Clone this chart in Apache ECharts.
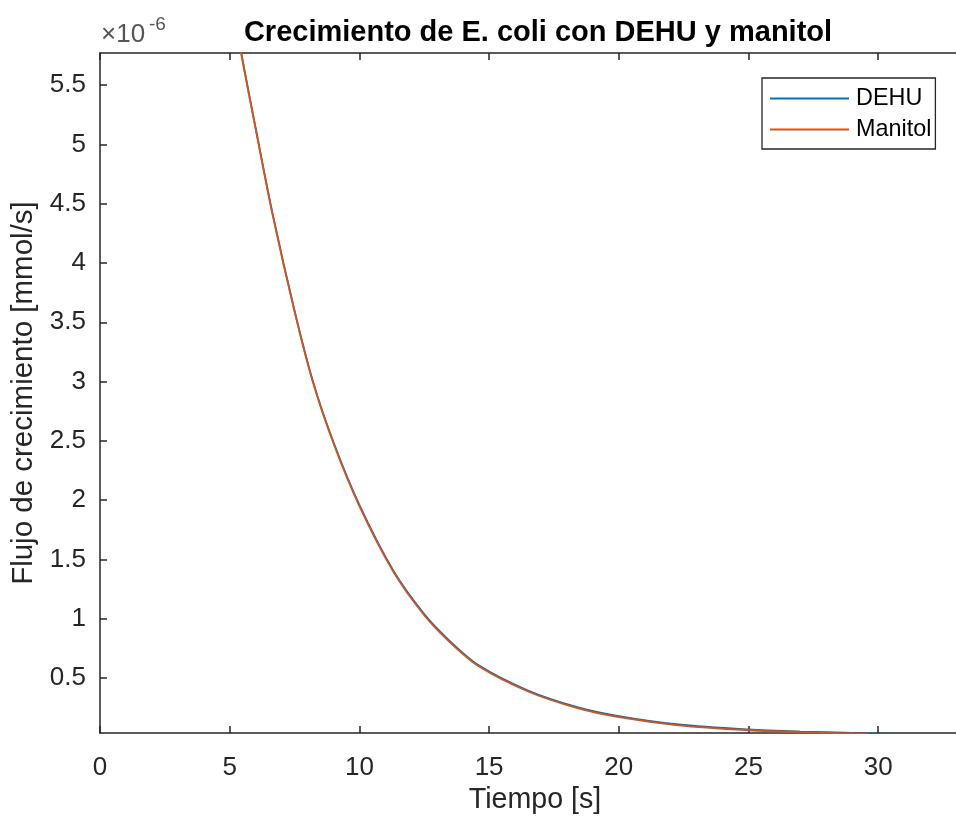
<!DOCTYPE html>
<html>
<head>
<meta charset="utf-8">
<script src="https://cdn.jsdelivr.net/npm/echarts@6/dist/echarts.min.js"></script>
<style>
html,body{margin:0;padding:0;background:#fff;}
#chart{width:956px;height:820px;}
</style>
</head>
<body>
<div id="chart"></div>
<script>
// Tiempo [s]
const tDEHU = [5.2, 5.44, 6.0, 6.65, 7.5, 8.2, 9.0, 10.0, 11.3, 12.5, 13.5, 14.6, 16.5, 18.4, 20, 22.3, 25, 27, 29.0, 30.8];
const dehu  = [6.11, 5.78, 5.14, 4.42, 3.60, 3.01, 2.49, 1.96, 1.41, 1.04, 0.81, 0.608, 0.396, 0.256, 0.180, 0.110, 0.068, 0.050, 0.038, 0.020];
const tManitol = [5.2, 5.44, 6.0, 6.65, 7.5, 8.2, 9.0, 10.0, 11.3, 12.5, 13.5, 14.6, 16.5, 18.4, 20, 22.3, 25, 27, 29.6];
const manitol  = [6.10, 5.77, 5.13, 4.41, 3.59, 3.00, 2.48, 1.95, 1.40, 1.03, 0.80, 0.600, 0.388, 0.248, 0.172, 0.103, 0.061, 0.044, 0.030];
const xTicks = [0, 5, 10, 15, 20, 25, 30];
const yTicks = [0.5, 1, 1.5, 2, 2.5, 3, 3.5, 4, 4.5, 5, 5.5];

const FONT = "'Liberation Sans', Arial, Helvetica, sans-serif";
const AX = '#262626';

const chart = echarts.init(document.getElementById('chart'), null, {renderer: 'canvas'});
const zip = (a, b) => a.map((v, i) => [v, b[i]]);

const option = {
  backgroundColor: '#ffffff',
  animation: false,
  title: {
    text: 'Crecimiento de E. coli con DEHU y manitol',
    left: 533, top: 13, textAlign: 'center',
    textStyle: {fontFamily: FONT, fontSize: 29, fontWeight: 'bold', color: '#000'}
  },
  legend: {
    orient: 'vertical', left: 762, top: 78,
    padding: [9, 4, 8, 8], itemGap: 8, itemWidth: 79, itemHeight: 2, icon: 'rect',
    borderColor: AX, borderWidth: 1.3, backgroundColor: '#fff',
    textStyle: {fontFamily: FONT, fontSize: 23.4, color: '#000', padding: [0, 0, 0, 2]},
    data: ['DEHU', 'Manitol']
  },
  grid: {left: 100, top: 53, width: 859, height: 684, containLabel: false},
  xAxis: [{
    type: 'value', min: 0, max: 33, position: 'bottom',
    name: 'Tiempo [s]', nameLocation: 'middle', nameGap: 52,
    nameTextStyle: {fontFamily: FONT, fontSize: 28.6, color: AX, padding: [0, 0, 0, 14]},
    axisLine: {show: true, onZero: false, lineStyle: {color: AX, width: 1.5}},
    axisTick: {show: true, inside: true, length: 7, customValues: xTicks, lineStyle: {color: AX, width: 1.5}},
    axisLabel: {show: true, customValues: xTicks, margin: 22, fontFamily: FONT, fontSize: 26, color: AX},
    splitLine: {show: false}
  }, {
    type: 'value', min: 0, max: 33, position: 'top',
    axisLine: {show: true, onZero: false, lineStyle: {color: AX, width: 1.5}},
    axisTick: {show: true, inside: true, length: 7, customValues: xTicks, lineStyle: {color: AX, width: 1.5}},
    axisLabel: {show: false},
    splitLine: {show: false}
  }],
  yAxis: {
    type: 'value', min: 0.037, max: 5.77,
    name: 'Flujo de crecimiento [mmol/s]', nameLocation: 'middle', nameGap: 58,
    nameTextStyle: {fontFamily: FONT, fontSize: 29.5, color: AX},
    axisLine: {show: true, onZero: false, lineStyle: {color: AX, width: 1.5}},
    axisTick: {show: true, inside: true, length: 7, customValues: yTicks, lineStyle: {color: AX, width: 1.5}},
    axisLabel: {show: true, customValues: yTicks, margin: 14, fontFamily: FONT, fontSize: 26, color: AX},
    splitLine: {show: false}
  },
  graphic: [
    {type: 'text', left: 101, top: 22, style: {text: '×10', fontFamily: FONT, fontSize: 26, fill: '#555'}},
    {type: 'text', left: 149, top: 15, style: {text: '-6', fontFamily: FONT, fontSize: 19, fill: '#555'}}
  ],
  series: [{
    name: 'DEHU', type: 'line', data: zip(tDEHU, dehu),
    smooth: 0.3, symbol: 'none', showSymbol: false, clip: true,
    lineStyle: {color: '#0072BD', width: 1.8}, itemStyle: {color: '#0072BD'}
  }, {
    name: 'Manitol', type: 'line', data: zip(tManitol, manitol),
    smooth: 0.3, symbol: 'none', showSymbol: false, clip: true,
    lineStyle: {color: '#D95319', width: 1.8}, itemStyle: {color: '#D95319'}
  }]
};
chart.setOption(option);
</script>
</body>
</html>
